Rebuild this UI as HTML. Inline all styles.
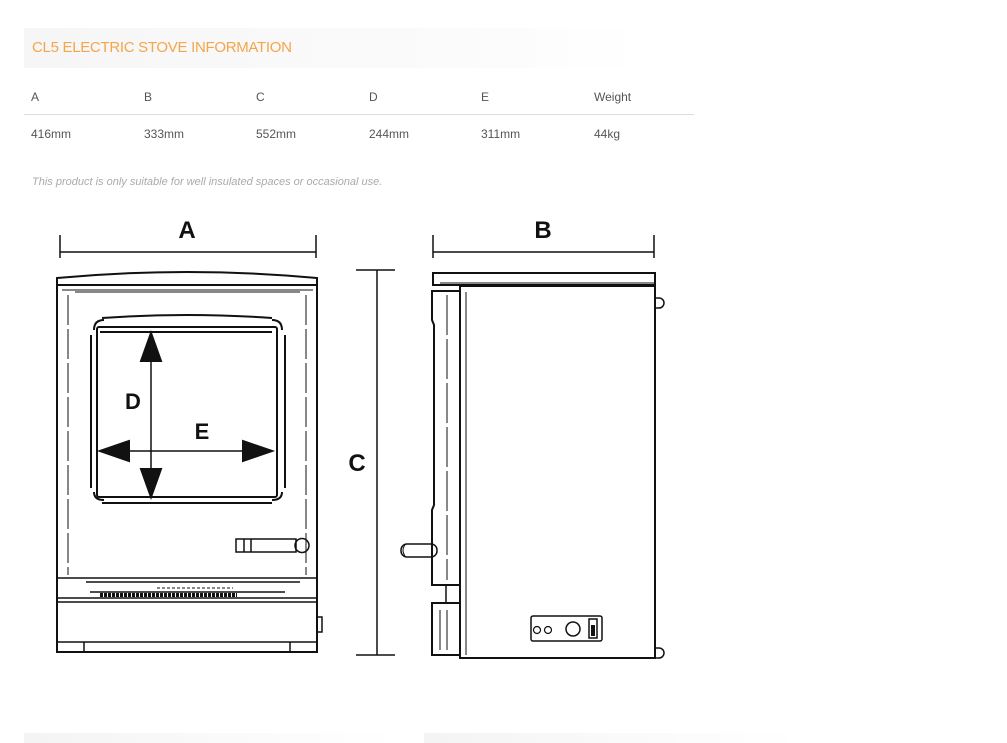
<!DOCTYPE html>
<html><head><style>
body{margin:0;width:1007px;height:743px;background:#fff;font-family:"Liberation Sans",sans-serif;position:relative;overflow:hidden}
.t{position:absolute;font-size:12px;color:#555}
</style></head><body>
<div style="position:absolute;left:24px;top:28px;width:616px;height:40px;background:linear-gradient(90deg,#f6f6f6,#fbfbfb 70%,#fff)"></div>
<div style="position:absolute;left:32px;top:39px;font-size:15px;color:#f5a54a;letter-spacing:-0.3px">CL5 ELECTRIC STOVE INFORMATION</div>
<div class="t" style="left:31px;top:90px">A</div>
<div class="t" style="left:144px;top:90px">B</div>
<div class="t" style="left:256px;top:90px">C</div>
<div class="t" style="left:369px;top:90px">D</div>
<div class="t" style="left:481px;top:90px">E</div>
<div class="t" style="left:594px;top:90px">Weight</div>
<div style="position:absolute;left:24px;top:114px;width:670px;height:1px;background:#ddd"></div>
<div class="t" style="left:31px;top:127px">416mm</div>
<div class="t" style="left:144px;top:127px">333mm</div>
<div class="t" style="left:256px;top:127px">552mm</div>
<div class="t" style="left:369px;top:127px">244mm</div>
<div class="t" style="left:481px;top:127px">311mm</div>
<div class="t" style="left:594px;top:127px">44kg</div>
<div class="t" style="left:32px;top:176px;font-size:11px;color:#aaa;font-style:italic">This product is only suitable for well insulated spaces or occasional use.</div>
<div style="position:absolute;left:24px;top:733px;width:376px;height:10px;background:linear-gradient(90deg,#f4f4f4,#fff)"></div>
<div style="position:absolute;left:424px;top:733px;width:376px;height:10px;background:linear-gradient(90deg,#f4f4f4,#fff)"></div>
<svg width="1007" height="743" style="position:absolute;left:0;top:0" fill="none" stroke="#111" stroke-width="2">
<!-- dim A -->
<path d="M60 235V258M316 235V258M60 252H316" stroke-width="1.5"/>
<text x="187" y="238" font-size="24" font-weight="bold" fill="#111" stroke="none" text-anchor="middle">A</text>
<!-- front -->
<path d="M57 285V278Q187 266 317 278V285Z"/>
<path d="M57 285H317M57 285V652H317V285"/>
<path d="M62 290H313M75 292H300" stroke-width="1"/>
<path d="M68 295V575M306 295V575" stroke-width="1" stroke-dasharray="30 4"/>
<path d="M94 330Q94 320 104 320M272 320Q282 320 282 330M94 492Q94 500 104 500M272 500Q282 500 282 492"/>
<path d="M102 318Q187 312 272 318M102 503H272M91 335V488M285 335V488" stroke-width="2"/>
<rect x="97" y="327" width="180" height="170" rx="2"/>
<path d="M100 332H272"/>
<path d="M151 340V490" stroke-width="1.5"/>
<path d="M151 333L141 361H161Z M151 497L141 469H161Z" fill="#111"/>
<path d="M105 451H268" stroke-width="1.5"/>
<path d="M100 451L129 441V461Z M272 451L243 441V461Z" fill="#111"/>
<text x="133" y="409" font-size="22" font-weight="bold" fill="#111" stroke="none" text-anchor="middle">D</text>
<text x="202" y="439" font-size="22" font-weight="bold" fill="#111" stroke="none" text-anchor="middle">E</text>
<rect x="236" y="539" width="60" height="13" stroke-width="1.5"/>
<path d="M244 539V552M251 539V552" stroke-width="1.5"/>
<circle cx="302" cy="545.5" r="7" stroke-width="1.5"/>
<path d="M57 578H317M57 598H317M57 602H317" stroke-width="1.5"/>
<path d="M86 582H300M90 592H285" stroke-width="1.5"/>
<path d="M100 595H237" stroke-width="4" stroke-dasharray="3 1"/>
<path d="M157 588H233" stroke-width="1" stroke-dasharray="3 2"/>
<path d="M57 642H317M84 642V652M290 642V652" stroke-width="1.5"/>
<rect x="317" y="617" width="5" height="15" stroke-width="1.5"/>
<!-- dim C -->
<path d="M356 270H395M356 655H395M377 270V655" stroke-width="1.5"/>
<text x="357" y="471" font-size="24" font-weight="bold" fill="#111" stroke="none" text-anchor="middle">C</text>
<!-- dim B -->
<path d="M433 235V258M654 235V258M433 252H654" stroke-width="1.5"/>
<text x="543" y="238" font-size="24" font-weight="bold" fill="#111" stroke="none" text-anchor="middle">B</text>
<!-- side -->
<path d="M433 273H655V285H433Z"/>
<path d="M440 283H655" stroke-width="1"/>
<rect x="460" y="286" width="195" height="372"/>
<path d="M466 292V655" stroke-width="1"/>
<path d="M432 291H460V585H432V510L434 505V325L432 320Z"/>
<path d="M447 295V580" stroke-width="1" stroke-dasharray="40 4"/>
<path d="M446 585V603" stroke-width="1.5"/>
<path d="M432 603H460V655H432Z"/>
<path d="M440 610V650M447 610V650" stroke-width="1"/>
<path d="M655 298H659A5 5 0 0 1 659 308H655M655 648H659A5 5 0 0 1 659 658H655" stroke-width="1.5"/>
<rect x="401" y="544" width="36" height="13" rx="6" stroke-width="1.5"/>
<path d="M405 545Q401 550 405 556" stroke-width="1"/>
<rect x="531" y="616" width="71" height="25" rx="2" stroke-width="1.5"/>
<circle cx="537" cy="630" r="3.5" stroke-width="1.2"/>
<circle cx="548" cy="630" r="3.5" stroke-width="1.2"/>
<circle cx="573" cy="629" r="7" stroke-width="1.5"/>
<rect x="589" y="619" width="8" height="19" stroke-width="1.5"/>
<rect x="591" y="625" width="4" height="11" fill="#111" stroke="none"/>
</svg>
</body></html>
